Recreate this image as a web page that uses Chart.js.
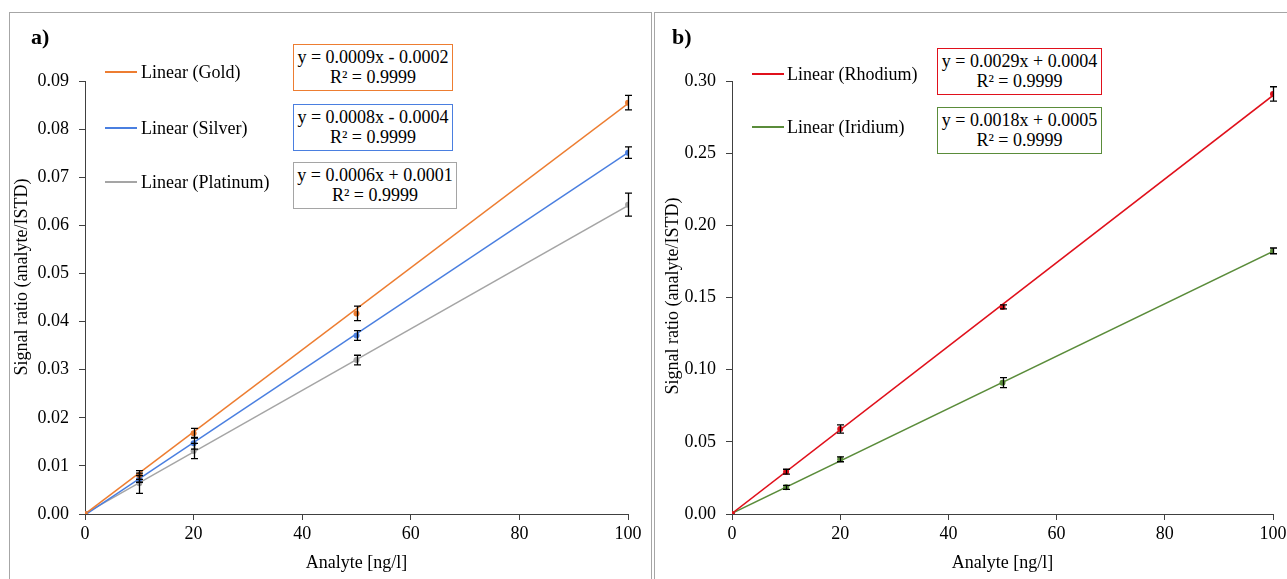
<!DOCTYPE html>
<html>
<head>
<meta charset="utf-8">
<script src="https://cdn.jsdelivr.net/npm/chart.js@4.4.1/dist/chart.umd.min.js"></script>
<style>
  html,body{margin:0;padding:0;background:#fff;}
  body{width:1287px;height:579px;overflow:hidden;position:relative;font-family:"Liberation Serif","Times New Roman",serif;color:#000;}
  .panel{position:absolute;box-sizing:border-box;}
  .wrap{position:absolute;}
  .lbl{position:absolute;font-size:18px;line-height:18px;white-space:nowrap;}
  .leg{position:absolute;height:1.5px;}
  .box{position:absolute;box-sizing:border-box;font-size:18px;line-height:20px;text-align:center;padding-top:2px;background:#fff;white-space:nowrap;}
  .tag{position:absolute;font-size:22px;font-weight:bold;line-height:22px;}
  .ytitle{position:absolute;width:300px;height:18px;font-size:18px;line-height:18px;text-align:center;white-space:nowrap;transform:rotate(-90deg);transform-origin:50% 50%;}
</style>
</head>
<body>
<div class="panel" style="left:9px;top:12px;width:643px;height:600px;border:1px solid #a6a6a6;"></div>
<div class="panel" style="left:654px;top:12px;width:650px;height:600px;border:1px solid #a6a6a6;"></div>

<div class="wrap" style="left:8px;top:13px;width:643px;height:566px;"><canvas id="ca"></canvas></div>
<div class="wrap" style="left:655px;top:13px;width:645px;height:566px;"><canvas id="cb"></canvas></div>

<div class="ytitle" style="left:-129px;top:268px;">Signal ratio (analyte/ISTD)</div>
<div class="ytitle" style="left:522px;top:287px;">Signal ratio (analyte/ISTD)</div>

<div class="tag" style="left:31px;top:26px;">a)</div>
<div class="leg" style="left:105px;top:71px;width:32px;background:#ED7D31;"></div>
<div class="lbl" style="left:141px;top:63px;">Linear (Gold)</div>
<div class="leg" style="left:105px;top:127px;width:32px;background:#4A7FE0;"></div>
<div class="lbl" style="left:141px;top:119px;">Linear (Silver)</div>
<div class="leg" style="left:105px;top:181px;width:32px;background:#A5A5A5;"></div>
<div class="lbl" style="left:141px;top:173px;">Linear (Platinum)</div>

<div class="box" style="left:293px;top:44px;width:160px;height:47px;border:1.5px solid #ED7D31;">y = 0.0009x - 0.0002<br>R² = 0.9999</div>
<div class="box" style="left:293px;top:104px;width:160px;height:47px;border:1.5px solid #4A7FE0;">y = 0.0008x - 0.0004<br>R² = 0.9999</div>
<div class="box" style="left:293px;top:162px;width:164px;height:47px;border:1.5px solid #A5A5A5;">y = 0.0006x + 0.0001<br>R² = 0.9999</div>

<div class="tag" style="left:672px;top:26px;">b)</div>
<div class="leg" style="left:752px;top:73px;width:32px;background:#E0101B;"></div>
<div class="lbl" style="left:787px;top:65px;">Linear (Rhodium)</div>
<div class="leg" style="left:752px;top:126px;width:32px;background:#5A8C3A;"></div>
<div class="lbl" style="left:787px;top:118px;">Linear (Iridium)</div>

<div class="box" style="left:937px;top:48px;width:165px;height:47px;border:1.5px solid #E0101B;">y = 0.0029x + 0.0004<br>R² = 0.9999</div>
<div class="box" style="left:937px;top:107px;width:165px;height:47px;border:1.5px solid #5A8C3A;">y = 0.0018x + 0.0005<br>R² = 0.9999</div>

<script>
// ---- data ----
const concentrations = [0, 10, 20, 50, 100];
const trendX = [0, 100];

const goldValues     = [0, 0.0081, 0.0168, 0.0417, 0.0855];
const goldErrors     = [0, 0.0009, 0.0010, 0.0015, 0.0015];
const goldTrend      = [0.0000, 0.0853];

const silverValues   = [0, 0.0073, 0.0147, 0.0371, 0.0751];
const silverErrors   = [0, 0.0007, 0.0012, 0.0010, 0.0012];
const silverTrend    = [-0.0002, 0.0751];

const platinumValues = [0, 0.0064, 0.0131, 0.0320, 0.0643];
const platinumErrors = [0, 0.0021, 0.0016, 0.0010, 0.0024];
const platinumTrend  = [0.0001, 0.0641];

const rhodiumValues  = [0, 0.0293, 0.0589, 0.1435, 0.2910];
const rhodiumErrors  = [0, 0.0017, 0.0028, 0.0014, 0.0050];
const rhodiumTrend   = [0.0004, 0.2900];

const iridiumValues  = [0, 0.0185, 0.0379, 0.0910, 0.1823];
const iridiumErrors  = [0, 0.0014, 0.0017, 0.0035, 0.0020];
const iridiumTrend   = [0.0005, 0.1820];

const yTicksA = {min: 0, max: 0.09, step: 0.01};
const yTicksB = {min: 0, max: 0.30, step: 0.05};
const xTicks  = {min: 0, max: 100, step: 20};

const colors = {gold:'#ED7D31', silver:'#4A7FE0', platinum:'#A5A5A5', rhodium:'#E0101B', iridium:'#5A8C3A'};

// ---- helpers ----
const pts = (xs, ys) => xs.map((x, i) => ({x, y: ys[i]}));

const errorBars = {
  id: 'errorBars',
  afterDatasetsDraw(chart) {
    const {ctx, scales: {x, y}} = chart;
    ctx.save();
    ctx.strokeStyle = '#000';
    ctx.lineWidth = 1.3;
    chart.data.datasets.forEach(ds => {
      if (!ds.errors) return;
      ds.data.forEach((p, j) => {
        const e = ds.errors[j];
        if (!e) return;
        const px = Math.round(x.getPixelForValue(p.x)) + 0.5;
        const t = y.getPixelForValue(p.y + e);
        const b = y.getPixelForValue(p.y - e);
        ctx.beginPath();
        ctx.moveTo(px, t); ctx.lineTo(px, b);
        ctx.moveTo(px - 3.5, t); ctx.lineTo(px + 3.5, t);
        ctx.moveTo(px - 3.5, b); ctx.lineTo(px + 3.5, b);
        ctx.stroke();
      });
    });
    ctx.restore();
  }
};

function series(color, values, errors, trend) {
  return [
    {data: pts(concentrations, values), errors, showLine: false, pointRadius: 3,
     pointBackgroundColor: color, pointBorderWidth: 0, order: 0},
    {data: pts(trendX, trend), showLine: true, borderColor: color, borderWidth: 1.5,
     pointRadius: 0, order: 1}
  ];
}

const font = {family: '"Liberation Serif","Times New Roman",serif', size: 18};

function makeChart(id, datasets, yt, padRight) {
  new Chart(document.getElementById(id), {
    type: 'scatter',
    data: {datasets},
    plugins: [errorBars],
    options: {
      responsive: true,
      maintainAspectRatio: false,
      animation: false,
      layout: {padding: {top: 68, right: padRight, left: 0, bottom: 0}},
      plugins: {legend: {display: false}, tooltip: {enabled: false}},
      scales: {
        x: {
          type: 'linear', min: xTicks.min, max: xTicks.max,
          ticks: {stepSize: xTicks.step, font, color: '#000', padding: 3, maxRotation: 0},
          grid: {drawOnChartArea: false, drawTicks: true, tickLength: 6, color: '#404040'},
          border: {display: true, color: '#404040', width: 1},
          title: {display: true, text: 'Analyte [ng/l]', font, color: '#000', padding: {top: 4, bottom: 5}},
          afterFit(s) { s.height = 65; }
        },
        y: {
          type: 'linear', min: yt.min, max: yt.max,
          ticks: {stepSize: yt.step, font, color: '#000', padding: 10,
                  callback: v => Number(v).toFixed(2)},
          grid: {drawOnChartArea: false, drawTicks: true, tickLength: 6, color: '#404040'},
          border: {display: true, color: '#404040', width: 1},
          title: {display: false},
          afterFit(s) { s.width = 77; }
        }
      }
    }
  });
}

makeChart('ca', [
  ...series(colors.gold, goldValues, goldErrors, goldTrend),
  ...series(colors.silver, silverValues, silverErrors, silverTrend),
  ...series(colors.platinum, platinumValues, platinumErrors, platinumTrend)
], yTicksA, 23);

makeChart('cb', [
  ...series(colors.rhodium, rhodiumValues, rhodiumErrors, rhodiumTrend),
  ...series(colors.iridium, iridiumValues, iridiumErrors, iridiumTrend)
], yTicksB, 27);
</script>
</body>
</html>
